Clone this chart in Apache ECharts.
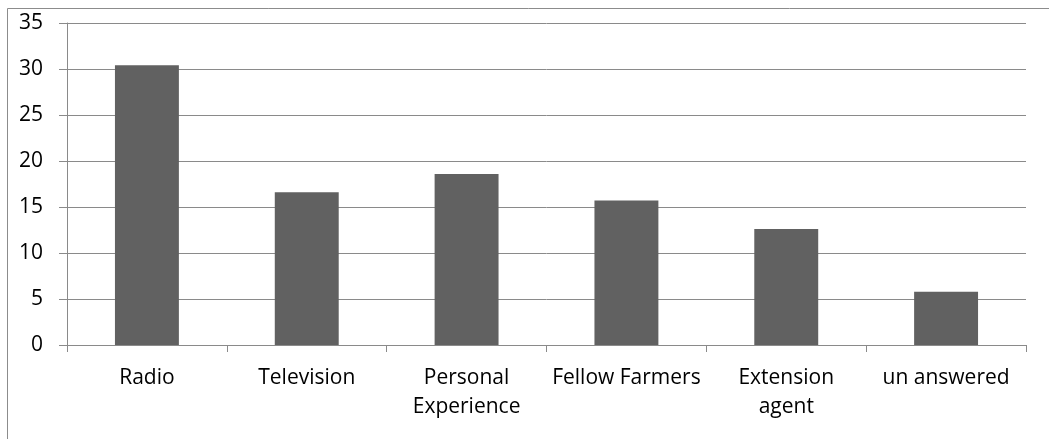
<!DOCTYPE html>
<html><head><meta charset="utf-8">
<script src="https://cdn.jsdelivr.net/npm/echarts@6/dist/echarts.min.js"></script>
<style>html,body{margin:0;padding:0;background:#fff}#c{width:1049px;height:439px}</style>
</head><body><div id="c"></div>
<script>
const categories = ['Radio', 'Television', 'Personal\nExperience', 'Fellow Farmers', 'Extension\nagent', 'un answered'];
const values = [30.4, 16.6, 18.6, 15.7, 12.6, 5.8];
const yTicks = { min: 0, max: 35, interval: 5 };

const chart = echarts.init(document.getElementById('c'), null, { renderer: 'canvas' });
const font = '"Open Sans", Lato, sans-serif';
chart.setOption({
  animation: false,
  backgroundColor: '#fff',
  graphic: [{
    type: 'rect', silent: true,
    shape: { x: 7.5, y: 8.5, width: 1045, height: 440 },
    style: { fill: 'none', stroke: '#8c8c8c', lineWidth: 1 }
  }],
  grid: { left: 67, right: 23, top: 23, bottom: 94, containLabel: false },
  xAxis: {
    type: 'category', data: categories, boundaryGap: true,
    axisLine: { lineStyle: { color: '#8a8a8a', width: 1 } },
    axisTick: { show: true, length: 7, lineStyle: { color: '#8a8a8a' } },
    axisLabel: { color: '#000', fontFamily: font, fontSize: 21, margin: 19, lineHeight: 29, interval: 0 }
  },
  yAxis: {
    type: 'value', min: yTicks.min, max: yTicks.max, interval: yTicks.interval,
    axisLine: { show: true, lineStyle: { color: '#8a8a8a', width: 1 } },
    axisTick: { show: true, length: 8, lineStyle: { color: '#8a8a8a' } },
    splitLine: { show: true, lineStyle: { color: '#8a8a8a', width: 1 } },
    axisLabel: { color: '#000', fontFamily: font, fontSize: 21, margin: 24 }
  },
  series: [{
    type: 'bar', data: values, barWidth: '40%',
    itemStyle: { color: '#616161' }
  }]
});
</script></body></html>
